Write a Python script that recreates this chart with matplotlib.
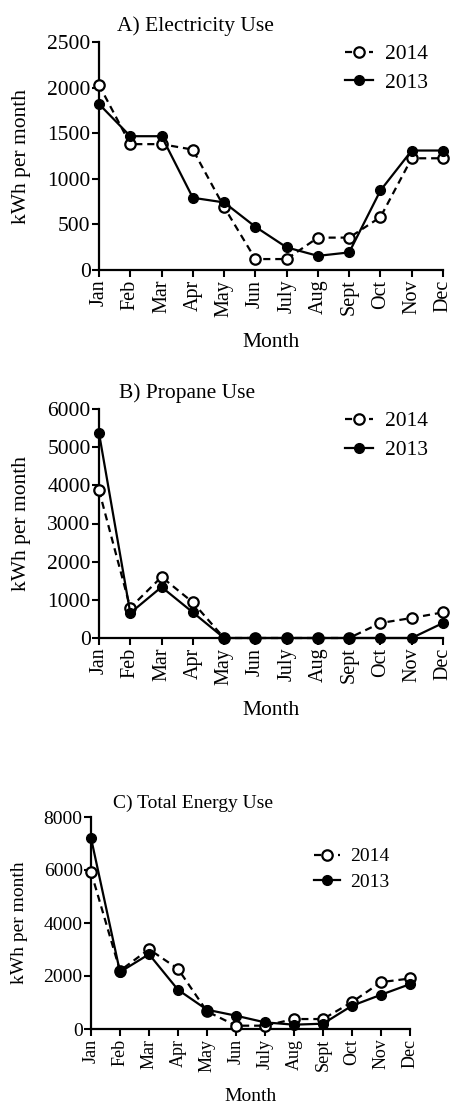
import matplotlib
matplotlib.use("Agg")
import matplotlib.pyplot as plt

plt.rcParams['font.family'] = ['Liberation Serif', 'DejaVu Serif']

months = ['Jan', 'Feb', 'Mar', 'Apr', 'May', 'Jun', 'July', 'Aug', 'Sept', 'Oct', 'Nov', 'Dec']

elec_2014 = [2030, 1380, 1380, 1320, 690, 120, 120, 355, 355, 580, 1225, 1225]
elec_2013 = [1820, 1467, 1467, 792, 741, 474, 248, 155, 193, 872, 1310, 1310]

prop_2014 = [3870, 794, 1600, 934, 0, 0, 0, 0, 0, 393, 524, 672]
prop_2013 = [5370, 655, 1336, 672, 0, 0, 0, 0, 0, 0, 0, 393]

total_2014 = [5930, 2200, 3010, 2270, 665, 125, 125, 376, 376, 1016, 1768, 1906]
total_2013 = [7210, 2150, 2822, 1480, 727, 502, 250, 163, 200, 878, 1292, 1693]

W, H = 450, 1106
fig = plt.figure(figsize=(W / 100, H / 100), dpi=100)


def px_axes(left, right, top, bottom):
    return fig.add_axes([left / W, 1 - bottom / H, (right - left) / W, (bottom - top) / H])


def draw_panel(ax, y14, y13, ymax, step, title, title_x, fs, leg_anchor, ylpad):
    x = range(len(months))
    ax.plot(x, y14, linestyle=(0, (3.2, 2.2)), color='black', lw=1.6, marker='o',
            markersize=7.5, markerfacecolor='white', markeredgewidth=1.6,
            label='2014', clip_on=False, zorder=3)
    ax.plot(x, y13, linestyle='-', color='black', lw=1.6, marker='o',
            markersize=7, markerfacecolor='black', label='2013',
            clip_on=False, zorder=4)
    ax.set_xlim(0, 11)
    ax.set_ylim(0, ymax)
    ax.set_yticks(range(0, ymax + 1, step))
    ax.set_xticks(list(x))
    ax.set_xticklabels(months, rotation=90, fontsize=fs - 1)
    ax.tick_params(axis='y', labelsize=fs, length=5, width=1.5, pad=1)
    ax.tick_params(axis='x', length=5, width=1.5, pad=2)
    for s in ['top', 'right']:
        ax.spines[s].set_visible(False)
    for s in ['left', 'bottom']:
        ax.spines[s].set_linewidth(1.6)
    ax.set_ylabel('kWh per month', fontsize=fs, labelpad=ylpad)
    ax.set_xlabel('Month', fontsize=fs, labelpad=12)
    ax.text(title_x, 1.025, title, transform=ax.transAxes, ha='center', va='bottom',
            fontsize=fs)
    ax.legend(loc='upper left', bbox_to_anchor=leg_anchor, frameon=False,
              fontsize=fs, handlelength=1.3, handletextpad=0.55, labelspacing=0.4,
              borderpad=0, borderaxespad=0)


axA = px_axes(99, 443, 42, 270)
draw_panel(axA, elec_2014, elec_2013, 2500, 500, 'A) Electricity Use', 0.28, 15.5,
           (0.715, 0.99), 12)

axB = px_axes(99, 443, 409, 638)
draw_panel(axB, prop_2014, prop_2013, 6000, 1000, 'B) Propane Use', 0.256, 15.5,
           (0.715, 0.99), 12)

axC = px_axes(91, 410, 817, 1029)
draw_panel(axC, total_2014, total_2013, 8000, 2000, 'C) Total Energy Use', 0.32, 14,
           (0.70, 0.855), 11)

fig.savefig('out.png', dpi=100)
